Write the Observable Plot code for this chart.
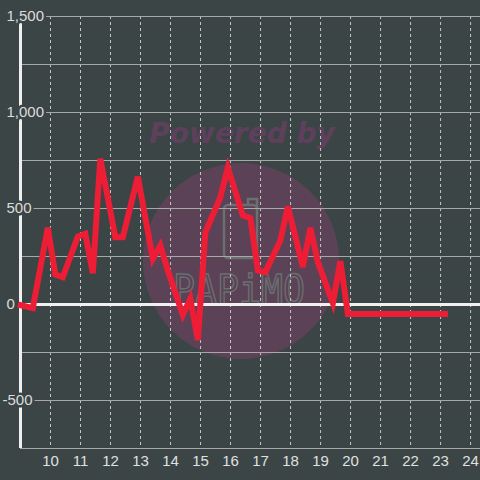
<!DOCTYPE html>
<html><head><meta charset="utf-8">
<script src="https://cdn.jsdelivr.net/npm/d3@7"></script>
<script src="https://cdn.jsdelivr.net/npm/@observablehq/plot@0.6"></script>
<style>html,body{margin:0;padding:0;background:#3b4545;overflow:hidden;}</style>
</head><body><div id="chart"></div>
<script>
const hours = [8.91, 9.41, 9.91, 10.16, 10.41, 10.91, 11.16, 11.41, 11.66, 12.16, 12.41, 12.91, 13.41, 13.66, 13.91, 14.41, 14.66, 14.91, 15.16, 15.66, 15.91, 16.41, 16.66, 16.91, 17.16, 17.66, 17.91, 18.41, 18.66, 18.91, 19.41, 19.66, 19.91, 23.25];
const values = [0, -19, 400, 156, 142, 354, 368, 163, 759, 350, 350, 665, 238, 307, 177, -54, 30, -185, 375, 559, 712, 464, 451, 177, 168, 333, 510, 195, 399, 220, 7, 226, -49, -49];
const xTicks = [10, 11, 12, 13, 14, 15, 16, 17, 18, 19, 20, 21, 22, 23, 24];
const yTicks = [-500, 0, 500, 1000, 1500];
const yGrid = [-750, -500, -250, 250, 500, 750, 1000, 1250, 1500];

const data = hours.map((h, i) => ({h, v: values[i]}));
const bg = "#3b4545";
const fmt = d3.format(",");

const chart = Plot.plot({
  width: 480, height: 480,
  marginLeft: 20, marginRight: 0, marginTop: 16, marginBottom: 32,
  style: {background: bg, fontFamily: "Liberation Sans, Arial, sans-serif"},
  x: {domain: [9, 24.33], axis: null},
  y: {domain: [-750, 1500], axis: null},
  marks: [
    Plot.ruleX(xTicks, {stroke: "#c8c8c8", strokeDasharray: "3,3", strokeWidth: 1}),
    Plot.ruleY(yGrid, {stroke: "#a8a8a8", strokeWidth: 1}),
    Plot.ruleY([0], {stroke: "#f0f0f0", strokeWidth: 3}),
    Plot.ruleX([9], {stroke: "#f0f0f0", strokeWidth: 3}),
    Plot.line(data, {x: "h", y: "v", stroke: "#ee1d36", strokeWidth: 6, strokeLinejoin: "miter", strokeLinecap: "butt", strokeMiterlimit: 4}),
    Plot.text(yTicks.filter(d => d >= 0), {x: () => 9, y: d => d, text: d => fmt(d), textAnchor: "start", dx: -14, fill: "#dcdcdc", stroke: bg, strokeWidth: 5, fontSize: 15}),
    Plot.text(yTicks.filter(d => d < 0), {x: () => 9, y: d => d, text: d => fmt(d).replace("−", "-"), textAnchor: "start", dx: -18, fill: "#dcdcdc", stroke: bg, strokeWidth: 5, fontSize: 15}),
    Plot.text(xTicks, {x: d => d, y: () => -750, text: d => String(d), dy: 13, fill: "#e0e0e0", fontSize: 15})
  ]
});

// watermark (decoration, drawn beneath the marks)
const wm = d3.create("svg:g").attr("class", "watermark");
wm.append("circle").attr("cx", 241).attr("cy", 261).attr("r", 98).attr("fill", "#7d3f68").attr("fill-opacity", 0.5);
wm.append("text").attr("x", 242).attr("y", 143).attr("text-anchor", "middle")
  .attr("font-family", "DejaVu Sans").attr("font-weight", "bold").attr("font-style", "italic")
  .attr("font-size", 28).attr("fill", "#823c76").attr("fill-opacity", 0.5).text("Powered by");
wm.append("rect").attr("x", 224).attr("y", 205).attr("width", 33).attr("height", 53).attr("rx", 4)
  .attr("fill", "none").attr("stroke", "#687070").attr("stroke-width", 2.5);
wm.append("path").attr("d", "M248,205 V199 H257 V210").attr("fill", "none").attr("stroke", "#687070").attr("stroke-width", 2.5);
wm.append("text").attr("x", 173).attr("y", 304).attr("text-anchor", "start")
  .attr("textLength", 132).attr("lengthAdjust", "spacingAndGlyphs")
  .attr("font-family", "DejaVu Sans Mono").attr("font-size", 40)
  .attr("fill", "none").attr("stroke", "#687070").attr("stroke-width", 1.5).text("PAPiMO");
chart.insertBefore(wm.node(), chart.querySelector("g"));

document.getElementById("chart").appendChild(chart);
</script>
</body></html>
